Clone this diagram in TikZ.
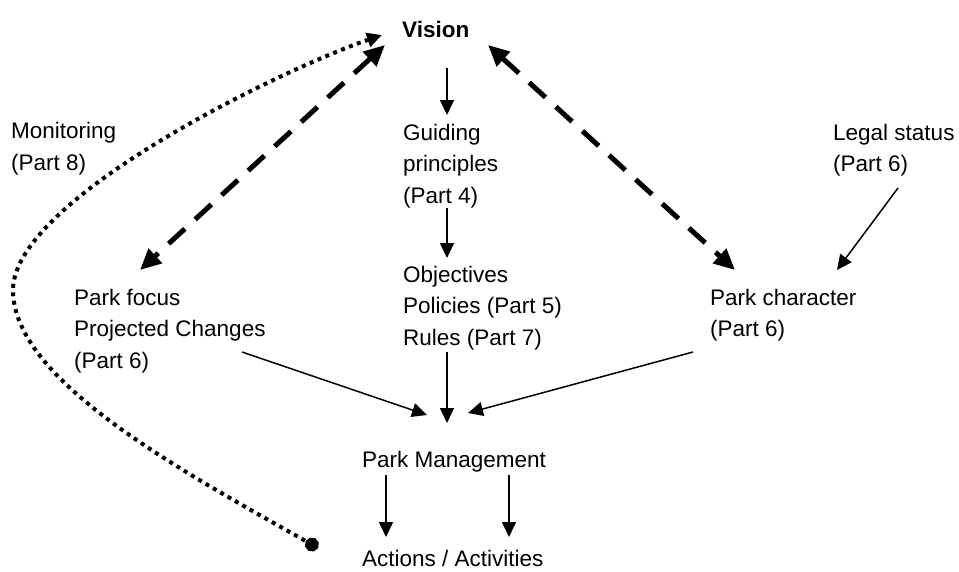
\documentclass[tikz,border=0pt]{standalone}
\usepackage{fontspec}
\setmainfont{Liberation Sans}
\usetikzlibrary{arrows.meta,calc}
\begin{document}
\begin{tikzpicture}[x=1pt,y=-1pt,
  lbl/.style={anchor=base west,inner sep=0pt,align=left,font=\fontsize{22.5}{31.5}\selectfont},
  thinarrow/.style={line width=1.5pt,-{Triangle[length=15pt,width=14pt]}},
  dasharrow/.style={line width=5pt,dash pattern=on 22pt off 14pt,{Triangle[length=21pt,width=19pt]}-{Triangle[length=21pt,width=19pt]}},
  dotarrow/.style={line width=4pt,dash pattern=on 4pt off 4.5pt,{Triangle[length=15pt,width=14pt]}-{Circle[length=14pt]}}]
\useasboundingbox (0,0) rectangle (959,571);
% nodes placed by the baseline of their last line
\node[lbl,font=\fontsize{22.5}{31.5}\selectfont\bfseries] (vision) at (402,37) {Vision};
\node[lbl] (monitor) at (11,170) {Monitoring\\(Part 8)};
\node[lbl] (guiding) at (403,203) {Guiding\\principles\\(Part 4)};
\node[lbl] (legal) at (833,171.5) {Legal status\\(Part 6)};
\node[lbl] (focus) at (74,368) {Park focus\\Projected Changes\\(Part 6)};
\node[lbl] (objectives) at (403,345) {Objectives\\Policies (Part 5)\\Rules (Part 7)};
\node[lbl] (character) at (710,336.5) {Park character\\(Part 6)};
\node[lbl] (pm) at (362,467) {Park Management};
\node[lbl] (actions) at (362,566) {Actions / Activities};
% solid arrows
\draw[thinarrow] ($(vision.base west)+(45,31)$) -- ($(guiding.base west)+(44,-88)$);
\draw[thinarrow] ($(guiding.base west)+(44,5)$) -- ($(objectives.base west)+(44,-87)$);
\draw[thinarrow] ($(objectives.base west)+(44,7)$) -- ($(pm.base west)+(85,-44)$);
\draw[thinarrow] ($(focus.base west)+(168,-16)$) -- ($(pm.base west)+(65,-52)$);
\draw[thinarrow] ($(character.base west)+(-17,15.5)$) -- ($(pm.base west)+(106,-54)$);
\draw[thinarrow] ($(legal.base west)+(65,16.5)$) -- ($(character.base west)+(127,-66.5)$);
\draw[thinarrow] ($(pm.base west)+(24,8)$) -- ($(actions.base west)+(24,-29)$);
\draw[thinarrow] ($(pm.base west)+(147,8)$) -- ($(actions.base west)+(147,-29)$);
% dashed double arrows
\draw[dasharrow] ($(vision.base west)+(-17,8)$) -- ($(focus.base west)+(66,-98)$);
\draw[dasharrow] ($(vision.base west)+(86,8)$) -- ($(character.base west)+(25,-66.5)$);
% dotted monitoring loop
\coordinate (bend) at (13,290);
\draw[dotarrow] ($(vision.base west)+(-20,-2)$) .. controls (280,70) and (13,200) .. (bend)
  .. controls (13,380) and (180,470) .. ($(actions.base west)+(-44,-18)$);
\end{tikzpicture}
\end{document}
